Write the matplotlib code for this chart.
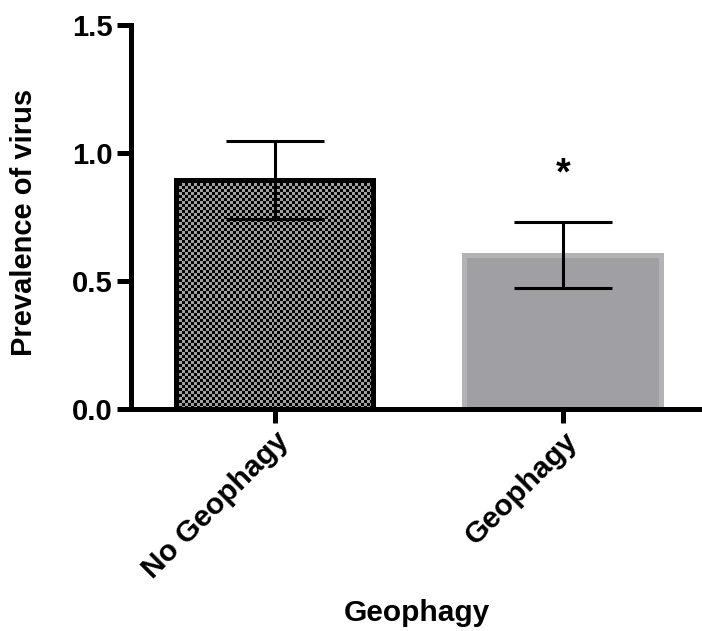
import numpy as np
import matplotlib
matplotlib.use("Agg")
import matplotlib.pyplot as plt

plt.rcParams['font.family'] = ['Liberation Sans', 'DejaVu Sans']
plt.rcParams['font.weight'] = 'bold'

groups = ["No Geophagy", "Geophagy"]
prevalence = [0.895, 0.601]
sem = [0.152, 0.128]
yticks = [0.0, 0.5, 1.0, 1.5]
star_y = 0.915

fig = plt.figure(figsize=(7.02, 6.31), dpi=100)
ax = fig.add_axes([0.1866, 0.3526, 0.8134, 0.607])

x = np.arange(len(groups))
width = 0.684

bars = ax.bar(x, prevalence, width=width, zorder=2)
# first bar: black outline, checkerboard texture filled in below
bars[0].set_facecolor("#999999")
bars[0].set_edgecolor("black")
bars[0].set_linewidth(3.6)
# second bar: plain grey with lighter rim
bars[1].set_facecolor("#a09fa4")
bars[1].set_edgecolor("#b3b3b3")
bars[1].set_linewidth(3.6)

ax.errorbar(x, prevalence, yerr=sem, fmt="none", ecolor="black",
            elinewidth=2.2, capsize=35, capthick=2.2, zorder=4)

ax.set_xlim(-0.5, 1.483)
ax.set_ylim(0, 1.5)

# checkerboard texture for the first bar (3 px cells)
fig.canvas.draw()
bb = bars[0].get_window_extent()
nx = int(round(bb.width / 3))
ny = int(round(bb.height / 3))
board = (np.add.outer(np.arange(ny), np.arange(nx)) % 2).astype(float)
x0 = bars[0].get_x()
im = ax.imshow(board, cmap=matplotlib.colors.ListedColormap(["#000000", "#a0a0a0"]),
               extent=[x0, x0 + width, 0, prevalence[0]], interpolation="nearest",
               aspect="auto", zorder=2.5)
im.set_clip_path(bars[0])
# redraw the outline on top of the texture
ax.bar(x[0], prevalence[0], width=width, facecolor="none", edgecolor="black",
       linewidth=3.6, zorder=3)

ax.text(x[1], star_y, "*", ha="center", va="center", fontsize=27,
        fontweight="bold", zorder=5)

for side in ["top", "right"]:
    ax.spines[side].set_visible(False)
for side in ["left", "bottom"]:
    ax.spines[side].set_linewidth(3.6)
    ax.spines[side].set_zorder(6)

ax.set_yticks(yticks)
ax.set_yticklabels([f"{v:.1f}" for v in yticks], fontsize=21, fontweight="bold")
ax.set_xticks(x)
ax.set_xticklabels(groups, rotation=45, ha="right", rotation_mode="anchor",
                   fontsize=21.5, fontweight="bold")
ax.tick_params(axis="both", length=10, width=3.6, pad=3)
ax.tick_params(axis="x", pad=3)

ax.set_ylabel("Prevalence of virus", fontsize=21, fontweight="bold")
ax.yaxis.set_label_coords(-0.163, 0.487)
ax.set_xlabel("Geophagy", fontsize=21.5, fontweight="bold")
ax.xaxis.set_label_coords(0.5, -0.498)

fig.savefig("out.png", dpi=100)
